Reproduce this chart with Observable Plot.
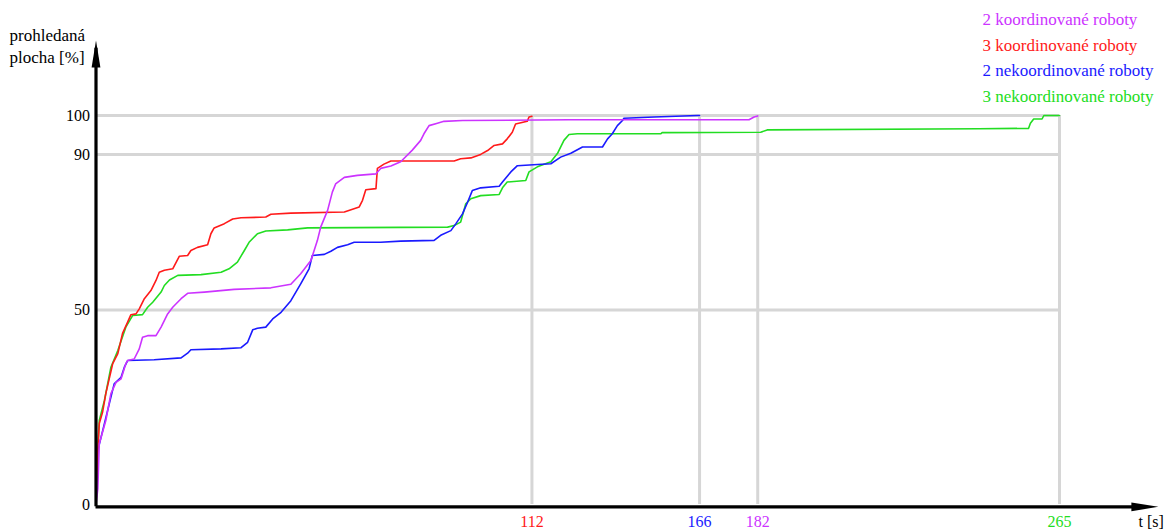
<!DOCTYPE html>
<html><head><meta charset="utf-8">
<script src="https://cdn.jsdelivr.net/npm/d3@7"></script>
<script src="https://cdn.jsdelivr.net/npm/@observablehq/plot@0.6"></script>
<style>html,body{margin:0;padding:0;background:#fff}svg{display:block}</style>
</head><body><div id="chart"></div>
<script>
// ---- data ----
const seriesNames = ["2 koordinované roboty", "3 koordinované roboty", "2 nekoordinované roboty", "3 nekoordinované roboty"];
const seriesColors = ["#cc33ff", "#ff1a1a", "#1a1aff", "#22dd22"];
const endTickLabels = ["182", "112", "166", "265"]; // printed under each series' end time
const yTicks = [0, 50, 90, 100];
const xTitle = "t [s]";
const yTitle = ["prohledaná", "plocha [%]"];

// [t (s), area (%)]
const koord2 = [[0,0],[0.5,4],[0.9,15.6],[2.7,21.6],[4.1,28.5],[5.5,31.4],[6.9,32.3],[8.2,36.2],[8.7,37],[10.5,37.4],[11.9,40],[12.8,43],[14.2,43.4],[16.5,43.4],[17.9,45.6],[19.7,49],[21.1,50.7],[23.4,52.9],[25.2,54.3],[29.8,54.6],[38,55.3],[48.1,55.7],[53.6,56.6],[56.3,59.3],[59.1,62.7],[60.9,67.9],[61.8,71.3],[63.7,75.6],[65,80.3],[65.9,82.4],[68.3,84.1],[71.9,84.6],[77,85],[78.3,86.4],[81.1,87],[83.8,88.1],[87,91.1],[89.3,93.6],[90.2,95.3],[91.6,97.4],[93.9,98],[95.7,98.5],[100.8,98.7],[130,98.9],[179.6,98.9],[181,99.6],[182,99.9]];
const koord3 = [[0,0],[0.5,13.9],[0.9,20.8],[1.8,23.7],[2.7,28.5],[4.6,36.2],[6,38.8],[7.3,44],[8.7,46.9],[9.6,48.8],[11,49],[11.9,50.3],[13.3,52.9],[15.1,55],[16.5,57.6],[17.4,59.7],[18.8,60.2],[21.1,60.6],[22.9,63.8],[25.2,64],[26.1,65.3],[27.9,66.1],[30.7,66.8],[31.6,69.6],[32.5,71.1],[35.3,72.2],[37.6,73.4],[39.9,73.7],[46.7,73.9],[48.1,74.6],[53.6,74.9],[68.3,75.2],[72.4,76.5],[73.3,78.2],[74.2,80.9],[77,81.2],[77.4,86.4],[79.2,87.5],[81.1,88.3],[98.5,88.3],[100.3,88.9],[103.1,89.1],[105.8,90],[107.7,91],[109.5,92.3],[111.8,92.7],[113.1,94],[114.5,95.7],[115.4,97.8],[118.6,98.5],[119.1,99.6],[119.9,99.8]];
const nekoord2 = [[0,0],[0.5,13.9],[5,31],[6.9,32.7],[7.8,35.3],[8.7,37],[16,37.2],[23.4,37.7],[25.2,38.9],[26.1,39.8],[34.4,40],[39.9,40.3],[41.7,41.7],[43.1,44.9],[44.4,45.3],[46.7,45.6],[48.6,47.7],[50.9,49.4],[53.6,52.4],[56.3,56.7],[58.6,60.6],[59.5,64],[62.8,64.3],[64.6,65.1],[66.4,66.1],[69.2,66.8],[71,67.4],[78.3,67.4],[83.8,67.7],[93,67.9],[94.8,69.2],[97.6,70.4],[99,72.2],[100.8,74.7],[102.2,77.7],[103.5,80.7],[105.8,81.4],[110.9,81.8],[111.8,82.9],[114.1,85.5],[115.9,87.1],[121.4,87.4],[125.1,87.6],[127.8,89.3],[130.6,90.3],[132.4,91.2],[133.8,91.9],[139.3,91.9],[140.7,94],[142,95.3],[143.4,97.4],[144.8,98.7],[145.2,99.3],[153.5,99.6],[165.4,100],[166,100]];
const nekoord3 = [[0,0],[0.3,11.3],[0.9,21.6],[2.3,26.7],[4.1,35.3],[6,39.6],[8.2,45.6],[10.1,48.6],[12.8,48.8],[14.2,50.7],[15.6,52],[17.9,54.6],[18.8,56.3],[20.2,57.7],[22.5,58.9],[28.9,59.1],[34.4,59.7],[36.6,60.6],[38.9,62.3],[40.8,65.3],[42.1,67.4],[44.4,69.6],[46.7,70.3],[52.7,70.6],[58.2,71.1],[96.7,71.3],[98.5,71.7],[100.3,72.6],[101.7,77.3],[103.1,78.6],[105.8,79.4],[110.9,79.7],[111.8,81.4],[113.1,82.9],[118.2,83.3],[119.1,85.5],[121.4,86.8],[125.1,88.1],[126.9,90.2],[128.7,93.6],[130.1,95.1],[132.4,95.3],[155.3,95.3],[155.7,95.6],[182.8,95.7],[184.6,96.3],[242.8,96.6],[256.5,96.7],[257,98],[257.9,99.1],[260.2,99.1],[260.7,100],[265,100]];

const seriesData = [koord2, koord3, nekoord2, nekoord3];

// ---- build table ----
const rows = [];
seriesData.forEach((arr, i) => arr.forEach(([t, v]) => rows.push({s: seriesNames[i], t, v})));
const ends = seriesData.map((arr, i) => ({s: seriesNames[i], t: arr[arr.length - 1][0], label: endTickLabels[i]}));
const drawOrder = [3, 2, 1, 0];

// ---- layout ----
const W = 1173, H = 531;
const FONT = "'Liberation Serif', 'Times New Roman', serif";
const xAxisEnd = 292.2, yAxisEnd = 119.3, axisBase = -0.6;

const arrowHead = {draw(ctx) { ctx.moveTo(0, 0); ctx.lineTo(-4.4, 27); ctx.lineTo(4.4, 27); ctx.closePath(); }};

const textAt = (str, px, py, opts = {}) => Plot.text([str], {
  text: d => d, frameAnchor: "top-left", dx: px, dy: py, lineAnchor: "bottom",
  textAnchor: "start", fontSize: 17, fontFamily: FONT, fill: "black", ...opts
});

const chart = Plot.plot({
  width: W, height: H, margin: 0,
  style: {background: "#fff", fontFamily: FONT},
  x: {domain: [0, 265], range: [95.5, 1059], axis: null},
  y: {domain: [0, 100], range: [504, 115], axis: null},
  color: {domain: seriesNames, range: seriesColors},
  marks: [
    Plot.ruleY(yTicks.filter(d => d > 0), {x1: 0, x2: 265, stroke: "#d6d6d6", strokeWidth: 3}),
    Plot.ruleX(ends, {x: "t", y1: 0, y2: 100, stroke: "#d6d6d6", strokeWidth: 3}),
    ...drawOrder.map(i => Plot.line(rows.filter(r => r.s === seriesNames[i]), {x: "t", y: "v", stroke: "s", strokeWidth: 1.6})),
    Plot.ruleY([axisBase], {x1: 0, x2: xAxisEnd - 5, stroke: "black", strokeWidth: 3.2}),
    Plot.ruleX([0], {y1: axisBase, y2: yAxisEnd - 2, stroke: "black", strokeWidth: 3.2}),
    Plot.dot([0], {x: () => 0, y: () => yAxisEnd, symbol: arrowHead, fill: "black", stroke: null}),
    Plot.dot([0], {x: () => xAxisEnd, y: () => axisBase, symbol: arrowHead, rotate: 90, fill: "black", stroke: null}),
    Plot.text(yTicks, {x: 0, y: d => d, text: d => String(d), textAnchor: "end", lineAnchor: "middle", dx: -6, fontSize: 16, fontFamily: FONT, fill: "black"}),
    Plot.text(ends, {x: "t", y: 0, text: "label", fill: "s", lineAnchor: "bottom", dy: 22, fontSize: 16, fontFamily: FONT}),
    textAt(yTitle[0], 9, 40.5),
    textAt(yTitle[1], 9, 62.5),
    textAt(xTitle, 1138, 526, {fontSize: 16}),
    ...seriesNames.map((n, i) => textAt(n, 982, 24.5 + i * 25.5, {fill: seriesColors[i]}))
  ]
});
document.getElementById("chart").appendChild(chart);
</script>
</body></html>
